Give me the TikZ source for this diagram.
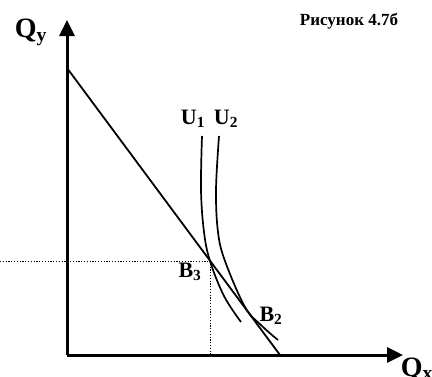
\documentclass[tikz,border=0pt]{standalone}
\usepackage{fontspec}
\setmainfont{Liberation Serif}
\usetikzlibrary{arrows.meta,calc,positioning}
\definecolor{inkblack}{HTML}{000000}

\tikzset{
  axisline/.style={inkblack,line width=3pt,-{Triangle[length=16pt,width=15pt]}},
  budgetline/.style={inkblack,line width=1.8pt},
  utilcurve/.style={inkblack,line width=1.7pt},
  guideline/.style={inkblack,line width=1pt,dash pattern=on 1.2pt off 1.6pt},
  axislabel/.style={inkblack,font=\bfseries\fontsize{28}{28}\selectfont,inner sep=0pt},
  curvelabel/.style={inkblack,font=\bfseries\fontsize{22}{22}\selectfont,inner sep=0pt},
  captionlabel/.style={inkblack,font=\bfseries\fontsize{17}{17}\selectfont,inner sep=0pt}
}

\begin{document}
\begin{tikzpicture}[x=1pt,y=-1pt]
    \useasboundingbox (0,0) rectangle (432,376);
    % axes
    \coordinate (orig) at (67,355);
    \coordinate (ytip) at (67,20);
    \coordinate (xtip) at (403,355);
    \draw[axisline] (orig) -- (ytip);
    \draw[axisline] (orig) -- (xtip);
    \node[axislabel] (qy) at (31,32) {Q\textsubscript{y}};
    \node[axislabel] (qx) at (417,369) {Q\textsubscript{x}};
    \node[captionlabel] (fig) at (349,21) {Рисунок 4.7б};
    % budget line
    \coordinate (budtop) at (67,68);
    \coordinate (budbot) at (280,355);
    \draw[budgetline] (budtop) -- (budbot);
    % point B3 and guide lines
    \coordinate (bthree) at (210,261);
    \coordinate (yleft) at (0,261);
    \coordinate (xfoot) at (210,355);
    \draw[guideline] (yleft) -- (bthree) -- (xfoot);
    % indifference curves
    \draw[utilcurve] plot[smooth,tension=0.6] coordinates {
        (202,136) (201,190) (204,232) (210,261) (224,296) (241,322)
      };
    \draw[utilcurve] plot[smooth,tension=0.6] coordinates {
        (219,136) (216,190) (218,232) (225,261) (245,307) (262,326) (278,340)
      };
    \node[curvelabel] (uone) at (193,119) {U\textsubscript{1}};
    \node[curvelabel] (utwo) at (226,119) {U\textsubscript{2}};
    \node[curvelabel] (bthreelab) at (190,272) {B\textsubscript{3}};
    \node[curvelabel] (btwolab) at (271,316) {B\textsubscript{2}};
  \end{tikzpicture}
\end{document}
